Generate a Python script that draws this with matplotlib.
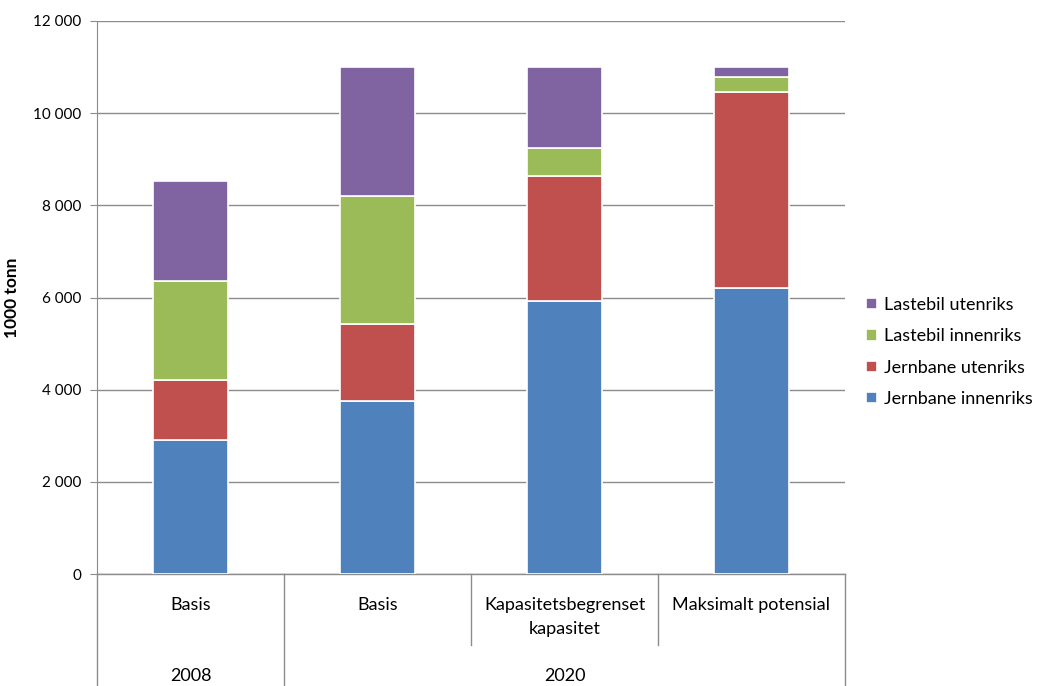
import matplotlib.pyplot as plt
import numpy as np

plt.rcParams['font.family'] = ['Lato', 'DejaVu Sans']

# data (1000 tonn)
categories = ["Basis", "Basis", "Kapasitetsbegrenset\nkapasitet", "Maksimalt potensial"]
years = ["2008", "2020"]
series_names = ["Jernbane innenriks", "Jernbane utenriks", "Lastebil innenriks", "Lastebil utenriks"]
jernbane_inn = [2900, 3750, 5925, 6200]
jernbane_ut = [1310, 1675, 2710, 4260]
lastebil_inn = [2150, 2780, 600, 330]
lastebil_ut = [2170, 2795, 1765, 210]
colors = ["#4F81BD", "#C0504D", "#9BBB59", "#8064A2"]

fig = plt.figure(figsize=(10.41, 6.86), dpi=100)
ax = fig.add_axes([97 / 1041, 112 / 686, 748 / 1041, 553 / 686])

x = np.arange(len(categories))
bottom = np.zeros(len(categories))
for vals, col, name in zip([jernbane_inn, jernbane_ut, lastebil_inn, lastebil_ut], colors, series_names):
    ax.bar(x, vals, width=0.4, bottom=bottom, color=col, edgecolor="white",
           linewidth=1.2, label=name, zorder=3)
    bottom += np.array(vals)

ax.set_xlim(-0.5, 3.5)
ax.set_ylim(0, 12000)
ax.set_yticks(np.arange(0, 12001, 2000))
ax.set_yticklabels([f"{v:,}".replace(",", " ") for v in range(0, 12001, 2000)], fontsize=11)
ax.yaxis.grid(True, color="#8c8c8c", linewidth=1, zorder=0)
ax.tick_params(axis="y", length=5, color="#8c8c8c", pad=6)
ax.set_xticks([])
for s in ["top", "right", "bottom"]:
    ax.spines[s].set_visible(False)
ax.spines["left"].set_color("#8c8c8c")
ax.set_ylabel("1000 tonn", fontsize=12.5, fontweight="bold", labelpad=10)

# category table below the axis
lo_full = -112 / 553
lo_short = -71 / 553
tr = ax.get_xaxis_transform()
line_kw = dict(color="#8c8c8c", linewidth=1, clip_on=False, transform=tr)
ax.plot([-0.5, 3.5], [0, 0], **line_kw)
for xv in [-0.5, 0.5, 3.5]:
    ax.plot([xv, xv], [0, lo_full], **line_kw)
for xv in [1.5, 2.5]:
    ax.plot([xv, xv], [0, lo_short], **line_kw)

for xi, cat in zip(x, categories):
    ax.text(xi, -23 / 553, cat, ha="center", va="top", fontsize=13,
            transform=tr, linespacing=1.65)
ax.text(0, -94 / 553, years[0], ha="center", va="top", fontsize=13, transform=tr)
ax.text(2, -94 / 553, years[1], ha="center", va="top", fontsize=13, transform=tr)

handles, labels = ax.get_legend_handles_labels()
fig.legend(handles[::-1], labels[::-1], loc="center left", bbox_to_anchor=(852 / 1041, 1 - 352 / 686),
           frameon=False, fontsize=13, handlelength=0.6, handleheight=0.6, handletextpad=0.35,
           labelspacing=0.85, borderpad=0.3)

fig.savefig("out.png", dpi=100)
